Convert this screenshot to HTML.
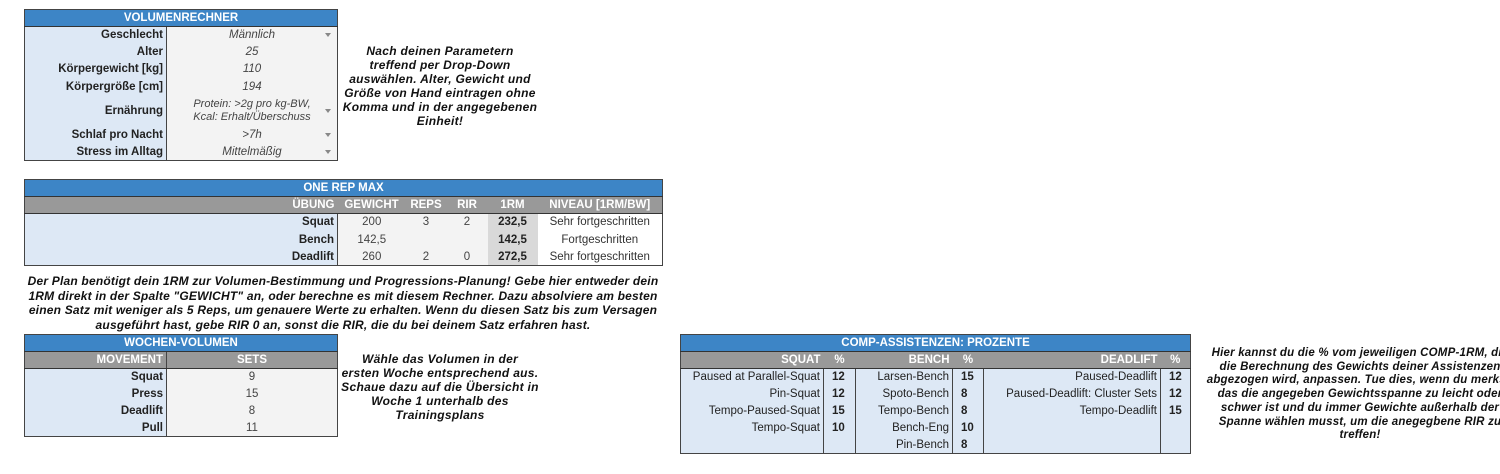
<!DOCTYPE html>
<html><head><meta charset="utf-8"><style>
body{margin:0;width:1500px;height:474px;overflow:hidden;background:#fff;font-family:"Liberation Sans",sans-serif;position:relative}
table{position:absolute;border-collapse:collapse;table-layout:fixed;font-size:11.5px;color:#222}
td{padding:0 3px;white-space:nowrap;overflow:hidden;border:none}
.box{border:1.5px solid #444}
.h{background:#3d85c6;color:#fff;font-weight:bold;text-align:center;border-bottom:1px solid #333}
.g td{background:#999;color:#fff;font-weight:bold;border-bottom:1px solid #333}
.l{background:#dde8f5;text-align:right;font-weight:bold;border-right:1.5px solid #444}
.v{background:#f3f3f3;text-align:center;font-style:italic;color:#444;position:relative}
.n{background:#f3f3f3;text-align:center;color:#444}
.dd::after{content:"";position:absolute;right:6px;top:50%;margin-top:-2px;border:3px solid transparent;border-top:4px solid #888}
.note{position:absolute;font-weight:bold;font-style:italic;font-size:12px;text-align:center;color:#111;line-height:14px;white-space:nowrap;letter-spacing:0.3px}
.lb{background:#dde8f5;text-align:right;border-right:1px solid #444}
.pc{background:#dde8f5;font-weight:bold;text-align:left;padding-left:8px;border-right:1px solid #444}
</style></head><body>

<table class="box" style="left:24px;top:9px;width:313px">
<colgroup><col style="width:142px"><col style="width:171px"></colgroup>
<tr style="height:17px"><td class="h" colspan="2">VOLUMENRECHNER</td></tr>
<tr style="height:17px"><td class="l">Geschlecht</td><td class="v dd">Männlich</td></tr>
<tr style="height:17px"><td class="l">Alter</td><td class="v">25</td></tr>
<tr style="height:17px"><td class="l">Körpergewicht [kg]</td><td class="v">110</td></tr>
<tr style="height:18px"><td class="l">Körpergröße [cm]</td><td class="v">194</td></tr>
<tr style="height:30px"><td class="l">Ernährung</td><td class="v dd" style="line-height:13px;font-size:11px">Protein: &gt;2g pro kg-BW,<br>Kcal: Erhalt/Überschuss</td></tr>
<tr style="height:18px"><td class="l">Schlaf pro Nacht</td><td class="v dd">&gt;7h</td></tr>
<tr style="height:17px"><td class="l">Stress im Alltag</td><td class="v dd">Mittelmäßig</td></tr>
</table>
<div class="note" style="left:335px;top:44px;width:210px">Nach deinen Parametern<br>treffend per Drop-Down<br>auswählen. Alter, Gewicht und<br>Größe von Hand eintragen ohne<br>Komma und in der angegebenen<br>Einheit!</div>

<table class="box" style="left:24px;top:179px;width:638px">
<colgroup><col style="width:313px"><col style="width:68px"><col style="width:41px"><col style="width:41px"><col style="width:50px"><col style="width:125px"></colgroup>
<tr style="height:17px"><td class="h" colspan="6">ONE REP MAX</td></tr>
<tr class="g" style="height:17px"><td style="text-align:right">ÜBUNG</td><td style="text-align:center">GEWICHT</td><td style="text-align:center">REPS</td><td style="text-align:center">RIR</td><td style="text-align:center">1RM</td><td style="text-align:center">NIVEAU [1RM/BW]</td></tr>
<tr style="height:17px"><td class="l">Squat</td><td class="n">200</td><td class="n">3</td><td class="n">2</td><td class="n" style="background:#d9d9d9;font-weight:bold;color:#222">232,5</td><td class="n" style="background:#fff;color:#333">Sehr fortgeschritten</td></tr>
<tr style="height:18px"><td class="l">Bench</td><td class="n">142,5</td><td class="n"></td><td class="n"></td><td class="n" style="background:#d9d9d9;font-weight:bold;color:#222">142,5</td><td class="n" style="background:#fff;color:#333">Fortgeschritten</td></tr>
<tr style="height:17px"><td class="l">Deadlift</td><td class="n">260</td><td class="n">2</td><td class="n">0</td><td class="n" style="background:#d9d9d9;font-weight:bold;color:#222">272,5</td><td class="n" style="background:#fff;color:#333">Sehr fortgeschritten</td></tr>
</table>
<div class="note" style="left:24px;top:274px;width:638px;line-height:14.5px;letter-spacing:0.2px">Der Plan benötigt dein 1RM zur Volumen-Bestimmung und Progressions-Planung! Gebe hier entweder dein<br>1RM direkt in der Spalte "GEWICHT" an, oder berechne es mit diesem Rechner. Dazu absolviere am besten<br>einen Satz mit weniger als 5 Reps, um genauere Werte zu erhalten. Wenn du diesen Satz bis zum Versagen<br>ausgeführt hast, gebe RIR 0 an, sonst die RIR, die du bei deinem Satz erfahren hast.</div>

<table class="box" style="left:24px;top:334px;width:313px">
<colgroup><col style="width:142px"><col style="width:171px"></colgroup>
<tr style="height:17px"><td class="h" colspan="2">WOCHEN-VOLUMEN</td></tr>
<tr class="g" style="height:17px"><td style="text-align:right;border-right:1.5px solid #444">MOVEMENT</td><td style="text-align:center">SETS</td></tr>
<tr style="height:17px"><td class="l">Squat</td><td class="n">9</td></tr>
<tr style="height:17px"><td class="l">Press</td><td class="n">15</td></tr>
<tr style="height:17px"><td class="l">Deadlift</td><td class="n">8</td></tr>
<tr style="height:17px"><td class="l">Pull</td><td class="n">11</td></tr>
</table>
<div class="note" style="left:335px;top:352px;width:210px">Wähle das Volumen in der<br>ersten Woche entsprechend aus.<br>Schaue dazu auf die Übersicht in<br>Woche 1 unterhalb des<br>Trainingsplans</div>

<table class="box" style="left:680px;top:334px;width:510px">
<colgroup><col style="width:143px"><col style="width:32px"><col style="width:97px"><col style="width:31px"><col style="width:177px"><col style="width:30px"></colgroup>
<tr style="height:17px"><td class="h" colspan="6">COMP-ASSISTENZEN: PROZENTE</td></tr>
<tr class="g" style="height:17px"><td style="text-align:right">SQUAT</td><td style="text-align:center">%</td><td style="text-align:right">BENCH</td><td style="text-align:center">%</td><td style="text-align:right">DEADLIFT</td><td style="text-align:center">%</td></tr>
<tr style="height:17px"><td class="lb">Paused at Parallel-Squat</td><td class="pc">12</td><td class="lb">Larsen-Bench</td><td class="pc">15</td><td class="lb">Paused-Deadlift</td><td class="pc">12</td></tr>
<tr style="height:17px"><td class="lb">Pin-Squat</td><td class="pc">12</td><td class="lb">Spoto-Bench</td><td class="pc">8</td><td class="lb">Paused-Deadlift: Cluster Sets</td><td class="pc">12</td></tr>
<tr style="height:17px"><td class="lb">Tempo-Paused-Squat</td><td class="pc">15</td><td class="lb">Tempo-Bench</td><td class="pc">8</td><td class="lb">Tempo-Deadlift</td><td class="pc">15</td></tr>
<tr style="height:17px"><td class="lb">Tempo-Squat</td><td class="pc">10</td><td class="lb">Bench-Eng</td><td class="pc">10</td><td class="lb"></td><td class="pc"></td></tr>
<tr style="height:17px"><td class="lb"></td><td class="pc"></td><td class="lb">Pin-Bench</td><td class="pc">8</td><td class="lb"></td><td class="pc"></td></tr>
</table>
<div class="note" style="left:1205px;top:347px;width:310px;line-height:13.7px;font-size:11.5px;letter-spacing:0.2px">Hier kannst du die % vom jeweiligen COMP-1RM, die<br>die Berechnung des Gewichts deiner Assistenzen<br>abgezogen wird, anpassen. Tue dies, wenn du merkst,<br>das die angegeben Gewichtsspanne zu leicht oder<br>schwer ist und du immer Gewichte außerhalb der<br>Spanne wählen musst, um die anegegbene RIR zu<br>treffen!</div>
</body></html>
